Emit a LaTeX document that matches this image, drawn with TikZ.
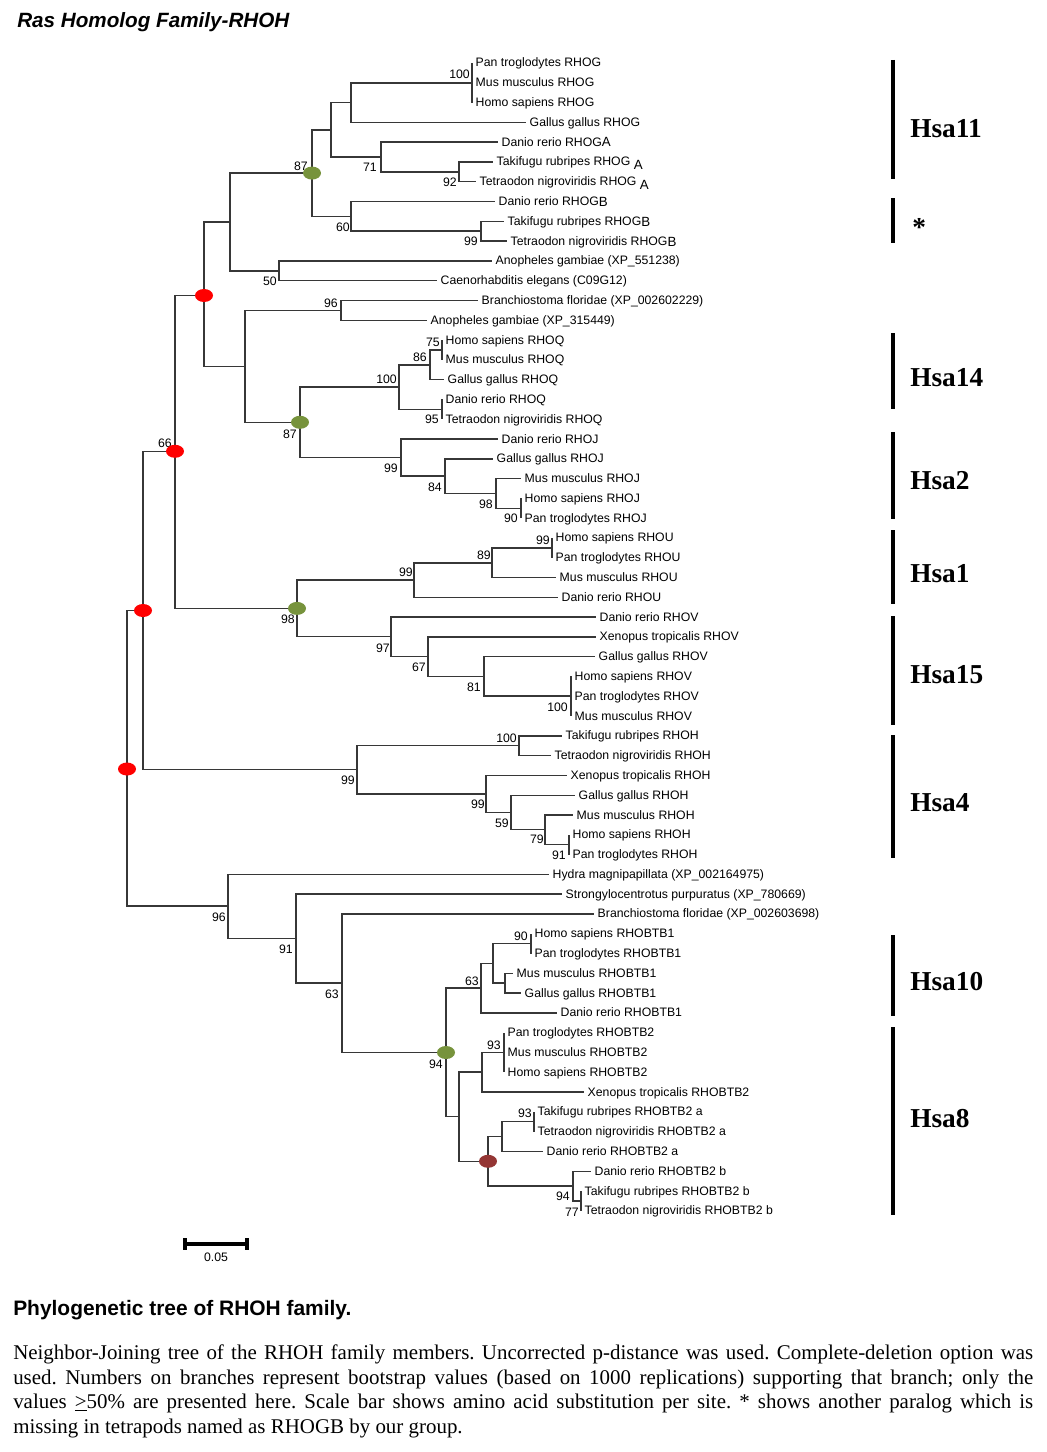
\documentclass[tikz,border=0pt]{standalone}
\usepackage{fontspec}
\setmainfont{Liberation Serif}
\newfontfamily\arialfont{Liberation Sans}
\usetikzlibrary{shapes.geometric}

\definecolor{nodegreen}{RGB}{119,147,60}
\definecolor{nodebrown}{RGB}{148,54,52}
\definecolor{branchgray}{RGB}{55,55,55}

\newcommand{\treefont}{\arialfont\fontsize{9.2}{11}\selectfont}
\newcommand{\rhosfx}[2]{\raisebox{#1}{\fontsize{10}{12}\selectfont #2}}
\frenchspacing

\begin{document}
\begin{tikzpicture}[x=0.75pt, y=-0.75pt,
    branch/.style={draw=branchgray, line width=1.1pt},
    leaf/.style={anchor=west, inner xsep=2.6pt, inner ysep=0pt, text height=7.5pt, text depth=1.5pt, font=\treefont},
    boot/.style={anchor=east, inner sep=0pt, text height=6.6pt, text depth=0pt, font=\treefont},
    cladebar/.style={draw=black, line width=3pt},
    cladelabel/.style={anchor=west, inner sep=0pt, text height=13.6pt, text depth=0pt, font=\fontsize{20.5}{24}\selectfont\bfseries},
    reddot/.style={ellipse, fill=red, inner sep=0pt, minimum width=13.5pt, minimum height=9.75pt},
    greendot/.style={reddot, fill=nodegreen},
    browndot/.style={reddot, fill=nodebrown}]

    \fill[white] (0,0) rectangle (1046,1452);
    \useasboundingbox (0,0) rectangle (1046,1452);

    % Title
    \node[anchor=base west, inner sep=0pt, font=\arialfont\fontsize{15.5}{18}\selectfont\bfseries\itshape] (title) at (17,28) {Ras Homolog Family-RHOH};

    % Leaves: index / branch end / name
    \foreach \i/\tip/\lab in {
        0/472/Pan troglodytes RHOG,
        1/472/Mus musculus RHOG,
        2/472/Homo sapiens RHOG,
        3/526/Gallus gallus RHOG,
        4/498/Danio rerio RHOG\rhosfx{0pt}{A},
        5/493/Takifugu rubripes RHOG \rhosfx{-2.5pt}{A},
        6/476/Tetraodon nigroviridis RHOG \rhosfx{-2.5pt}{A},
        7/495/Danio rerio RHOG\rhosfx{-1pt}{B},
        8/504/Takifugu rubripes RHOG\rhosfx{-1pt}{B},
        9/507/Tetraodon nigroviridis RHOG\rhosfx{-1pt}{B},
        10/492/Anopheles gambiae (XP\_551238),
        11/437/Caenorhabditis elegans (C09G12),
        12/478/Branchiostoma floridae (XP\_002602229),
        13/427/Anopheles gambiae (XP\_315449),
        14/442/Homo sapiens RHOQ,
        15/442/Mus musculus RHOQ,
        16/444/Gallus gallus RHOQ,
        17/442/Danio rerio RHOQ,
        18/442/Tetraodon nigroviridis RHOQ,
        19/498/Danio rerio RHOJ,
        20/493/Gallus gallus RHOJ,
        21/521/Mus musculus RHOJ,
        22/521/Homo sapiens RHOJ,
        23/521/Pan troglodytes RHOJ,
        24/552/Homo sapiens RHOU,
        25/552/Pan troglodytes RHOU,
        26/556/Mus musculus RHOU,
        27/558/Danio rerio RHOU,
        28/596/Danio rerio RHOV,
        29/596/Xenopus tropicalis RHOV,
        30/595/Gallus gallus RHOV,
        31/571/Homo sapiens RHOV,
        32/571/Pan troglodytes RHOV,
        33/571/Mus musculus RHOV,
        34/562/Takifugu rubripes RHOH,
        35/551/Tetraodon nigroviridis RHOH,
        36/567/Xenopus tropicalis RHOH,
        37/575/Gallus gallus RHOH,
        38/573/Mus musculus RHOH,
        39/569/Homo sapiens RHOH,
        40/569/Pan troglodytes RHOH,
        41/549/Hydra magnipapillata (XP\_002164975),
        42/562/Strongylocentrotus purpuratus (XP\_780669),
        43/594/Branchiostoma floridae (XP\_002603698),
        44/531/Homo sapiens RHOBTB1,
        45/531/Pan troglodytes RHOBTB1,
        46/513/Mus musculus RHOBTB1,
        47/521/Gallus gallus RHOBTB1,
        48/557/Danio rerio RHOBTB1,
        49/504/Pan troglodytes RHOBTB2,
        50/504/Mus musculus RHOBTB2,
        51/504/Homo sapiens RHOBTB2,
        52/584/Xenopus tropicalis RHOBTB2,
        53/534/Takifugu rubripes RHOBTB2 a,
        54/534/Tetraodon nigroviridis RHOBTB2 a,
        55/543/Danio rerio RHOBTB2 a,
        56/591/Danio rerio RHOBTB2 b,
        57/581/Takifugu rubripes RHOBTB2 b,
        58/581/Tetraodon nigroviridis RHOBTB2 b}
        \node[leaf] (l\i) at (\tip, {63+19.79*\i}) {\lab};

    % Inner nodes of the tree
    \coordinate (g1) at (472,82.8);
    \coordinate (g2) at (351,102.6);
    \coordinate (g3) at (459,171.8);
    \coordinate (g4) at (381,157);
    \coordinate (g5) at (331,129.8);
    \coordinate (g6) at (481,231.2);
    \coordinate (g7) at (351,216.4);
    \coordinate (g8) at (312,173.1);
    \coordinate (a1) at (279,270.8);
    \coordinate (g9) at (230,222);
    \coordinate (b1) at (341,310.4);
    \coordinate (q1) at (442,350);
    \coordinate (q2) at (430,364.9);
    \coordinate (q3) at (442,409.4);
    \coordinate (q4) at (399,387.1);
    \coordinate (j1) at (521,508.3);
    \coordinate (j2) at (496,493.5);
    \coordinate (j3) at (445,476.1);
    \coordinate (j4) at (401,457.6);
    \coordinate (qj) at (300,422.3);
    \coordinate (c1) at (245,366.4);
    \coordinate (r1) at (204,295.5);
    \coordinate (u1) at (552,547.9);
    \coordinate (u2) at (492,562.8);
    \coordinate (u3) at (414,580.1);
    \coordinate (v1) at (571,696.1);
    \coordinate (v2) at (484,676.3);
    \coordinate (v3) at (428,656.5);
    \coordinate (v4) at (391,636.7);
    \coordinate (uv) at (297,608.4);
    \coordinate (r2) at (175,451.3);
    \coordinate (h1) at (519,745.6);
    \coordinate (h2) at (569,844.6);
    \coordinate (h3) at (545,829.7);
    \coordinate (h4) at (511,812.4);
    \coordinate (h5) at (486,793.9);
    \coordinate (h6) at (357,769.7);
    \coordinate (r3) at (143,610.5);
    \coordinate (t1) at (531,943.6);
    \coordinate (t2) at (505,983.2);
    \coordinate (t3) at (493,963.4);
    \coordinate (t4) at (481,988.2);
    \coordinate (t5) at (504,1052.4);
    \coordinate (t6) at (482,1072.2);
    \coordinate (t7) at (534,1121.7);
    \coordinate (t8) at (502,1136.5);
    \coordinate (t9) at (581,1200.9);
    \coordinate (t10) at (573,1186);
    \coordinate (t11) at (488,1161.3);
    \coordinate (t12) at (459,1116.7);
    \coordinate (t13) at (446,1052.5);
    \coordinate (d1) at (342,983);
    \coordinate (d2) at (296,938.4);
    \coordinate (d3) at (228,906.2);
    \coordinate (root) at (127,758.3);

    % Branches: parent / child
    \foreach \p/\c in {g1/l0, g1/l1, g1/l2, g2/g1, g2/l3, g3/l5, g3/l6, g4/l4, g4/g3,
        g5/g2, g5/g4, g6/l8, g6/l9, g7/l7, g7/g6, g8/g5, g8/g7, a1/l10, a1/l11,
        g9/g8, g9/a1, b1/l12, b1/l13, q1/l14, q1/l15, q2/q1, q2/l16, q3/l17, q3/l18,
        q4/q2, q4/q3, j1/l22, j1/l23, j2/l21, j2/j1, j3/l20, j3/j2, j4/l19, j4/j3,
        qj/q4, qj/j4, c1/b1, c1/qj, r1/g9, r1/c1,
        u1/l24, u1/l25, u2/u1, u2/l26, u3/u2, u3/l27, v1/l31, v1/l32, v1/l33,
        v2/l30, v2/v1, v3/l29, v3/v2, v4/l28, v4/v3, uv/u3, uv/v4, r2/r1, r2/uv,
        h1/l34, h1/l35, h2/l39, h2/l40, h3/l38, h3/h2, h4/l37, h4/h3, h5/l36, h5/h4,
        h6/h1, h6/h5, r3/r2, r3/h6,
        t1/l44, t1/l45, t2/l46, t2/l47, t3/t1, t3/t2, t4/t3, t4/l48,
        t5/l49, t5/l50, t5/l51, t6/t5, t6/l52, t7/l53, t7/l54, t8/t7, t8/l55,
        t9/l57, t9/l58, t10/l56, t10/t9, t11/t8, t11/t10, t12/t6, t12/t11,
        t13/t4, t13/t12, d1/l43, d1/t13, d2/l42, d2/d1, d3/l41, d3/d2,
        root/r3, root/d3}
        \draw[branch] (\p) |- (\c);

    % Bootstrap values
    \foreach \bx/\by/\bv [count=\k] in {470/74/100, 308/166/87, 377/167/71, 457/182/92,
        350/227/60, 478/241/99, 277/281/50, 338/303/96, 440/342/75, 427/357/86,
        397/379/100, 439/419/95, 297/434/87, 398/468/99, 442/487/84, 493/504/98,
        518/518/90, 172/443/66, 550/540/99, 491/555/89, 413/572/99, 295/619/98,
        390/648/97, 426/667/67, 481/687/81, 568/707/100, 517/738/100, 355/780/99,
        485/804/99, 509/823/59, 544/839/79, 566/855/91, 226/917/96, 293/949/91,
        339/994/63, 528/936/90, 479/981/63, 443/1064/94, 501/1045/93, 532/1113/93,
        570/1196/94, 579/1212/77}
        \node[boot] (bs\k) at (\bx,\by) {\bv};

    % Marked duplication nodes
    \node[reddot] (dot1) at (r1) {};
    \node[reddot] (dot2) at (r2) {};
    \node[reddot] (dot3) at (r3) {};
    \node[reddot] (dot4) at (127,769) {};
    \node[greendot] (dot5) at (g8) {};
    \node[greendot] (dot6) at (qj) {};
    \node[greendot] (dot7) at (uv) {};
    \node[greendot] (dot8) at (t13) {};
    \node[browndot] (dot9) at (t11) {};

    % Chromosome brackets
    \foreach \ya/\yb/\yl/\nm/\txt in {60/179/128/hsa11/Hsa11, 333/409/377/hsa14/Hsa14,
        432/519/480/hsa2/Hsa2, 530/604/573/hsa1/Hsa1, 616/725/674/hsa15/Hsa15,
        735/858/802/hsa4/Hsa4, 935/1016/981/hsa10/Hsa10, 1027/1215/1118/hsa8/Hsa8}
    {
        \draw[cladebar] (893,\ya) -- (893,\yb);
        \node[cladelabel] (\nm) at (910,\yl) {\txt};
    }
    \draw[cladebar] (893,198) -- (893,243);
    \node[cladelabel] (star) at (912,227) {*};

    % Scale bar
    \draw[line width=2.5pt] (185,1238) -- (185,1250) (185,1244) -- (247,1244) (247,1238) -- (247,1250);
    \node[inner sep=0pt, font=\treefont] (scale) at (216,1257) {0.05};

    % Caption
    \node[anchor=base west, inner sep=0pt, font=\arialfont\fontsize{15.7}{18}\selectfont\bfseries] (caphead) at (13,1315) {Phylogenetic tree of RHOH family.};
    \node[anchor=base west, inner sep=0pt, font=\fontsize{15.7}{18.5}\selectfont] (cap1) at (13,1359)
        {\makebox[765pt][s]{Neighbor-Joining tree of the RHOH family members. Uncorrected p-distance was used. Complete-deletion option was}};
    \node[anchor=base west, inner sep=0pt, font=\fontsize{15.7}{18.5}\selectfont] (cap2) at (13,1384)
        {\makebox[765pt][s]{used. Numbers on branches represent bootstrap values (based on 1000 replications) supporting that branch; only the}};
    \node[anchor=base west, inner sep=0pt, font=\fontsize{15.7}{18.5}\selectfont] (cap3) at (13,1408)
        {\makebox[765pt][s]{values \underline{>}50\% are presented here. Scale bar shows amino acid substitution per site. * shows another paralog which is}};
    \node[anchor=base west, inner sep=0pt, font=\fontsize{15.7}{18.5}\selectfont] (cap4) at (13,1433)
        {missing in tetrapods named as RHOGB by our group.};
\end{tikzpicture}
\end{document}
